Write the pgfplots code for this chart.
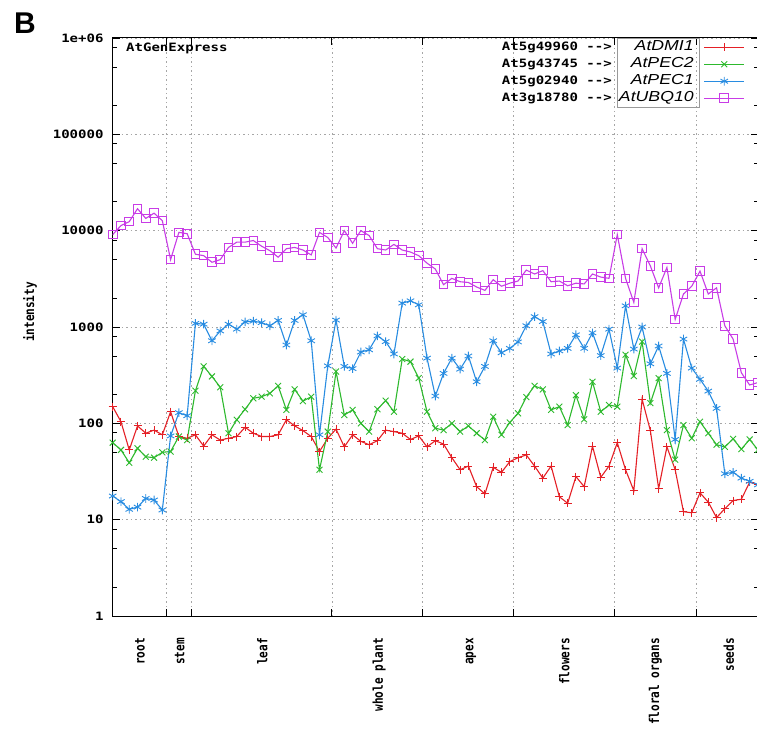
\documentclass[border=0pt]{standalone}
\usepackage{fontspec}
\usepackage{pgfplots}
\usepackage{pgfplotstable}
\pgfplotsset{compat=1.18}
\newfontfamily\gmono[FakeStretch=1.22]{DejaVu Sans Mono}
\newfontfamily\gmonor[FakeStretch=0.82]{DejaVu Sans Mono}
\newfontfamily\arialit[FakeStretch=1.22]{Liberation Sans}
\newfontfamily\arialb{Liberation Sans}
\definecolor{cred}{RGB}{228,32,38}
\definecolor{cgreen}{RGB}{45,185,45}
\definecolor{cblue}{RGB}{40,140,225}
\definecolor{cpurp}{RGB}{200,60,230}
\newcommand{\tickfont}{\gmono\bfseries\fontsize{11.5}{13}\selectfont}
\newcommand{\rotfont}{\gmonor\bfseries\fontsize{13.5}{15}\selectfont}

\pgfplotstableread{
x r g b p
0 149 63 17.6 9100
1 104 53 15.4 11300
2 53 39 12.8 12400
3 94 55 13.5 16900
4 79 45 16.6 13400
5 85 44 16 15200
6 76 50 12.6 12700
7 132 51 74 5000
8 73 73 129 9600
9 70 67 120 9300
10 76 218 1090 5700
11 58 390 1070 5500
12 76 307 720 4700
13 67 237 910 5000
14 70 79 1070 6700
15 73 109 950 7600
16 91 140 1130 7600
17 79 182 1150 7900
18 73 189 1110 6900
19 73 205 1030 6200
20 76 245 1170 5300
21 109 138 650 6500
22 94 225 1170 6700
23 84 170 1340 6300
24 73 189 720 5600
25 51 33 76 9600
26 70 82 395 8500
27 87 345 1180 6600
28 57 122 390 10000
29 76 138 370 7400
30 65 100 550 10000
31 60 82 580 8900
32 66 140 810 6500
33 85 172 705 6300
34 82 132 525 7200
35 79 465 1770 6300
36 68 437 1870 6000
37 74 295 1700 5500
38 57 132 475 4600
39 66 89 192 4000
40 61 85 330 2750
41 44 100 475 3200
42 33 82 365 2950
43 36 94 500 2900
44 22 79 270 2600
45 18.5 67 390 2400
46 35 117 720 3100
47 31 76 540 2650
48 40 102 600 2850
49 44 127 700 3000
50 47 187 1030 3900
51 36 245 1280 3550
52 27 225 1140 3850
53 36 138 525 2950
54 17.3 149 565 3000
55 14.8 96 600 2680
56 28 196 830 2850
57 22 110 600 2800
58 58 270 870 3550
59 27.5 132 505 3300
60 36 155 950 3200
61 63 149 375 9100
62 33 515 1660 3200
63 20 310 590 1800
64 178 705 1000 6500
65 84 162 415 4300
66 21 295 635 2550
67 57 85 330 4150
68 33 42 68 1200
69 12.1 96 750 2200
70 11.8 70 375 2650
71 19 104 287 3800
72 15.2 79 216 2200
73 10.5 60 143 2550
74 13 57 30 1030
75 15.8 69 31 750
76 16.3 54 27 335
77 24.5 68 25 250
78 23 53 23 265
}\datatable

\begin{document}
\begin{tikzpicture}[x=1pt,y=1pt]
\useasboundingbox (0,0) rectangle (757,732);
\begin{axis}[
  at={(112.7pt,116pt)}, anchor=south west,
  scale only axis, width=645.2pt, height=578pt,
  ymode=log, ymin=1, ymax=1000000,
  xmin=0, xmax=78,
  clip=false,
  axis line style={black, line width=1pt},
  tick align=inside,
  major tick length=7pt, minor tick length=4pt,
  every tick/.style={black, line width=0.9pt},
  ytick={1,10,100,1000,10000,100000,1000000},
  yticklabels={1,10,100,1000,10000,100000,1e+06},
  minor ytick={2,5,8,20,50,80,200,500,800,2000,5000,8000,20000,50000,80000,200000,500000,800000},
  yticklabel style={font=\tickfont, inner sep=0pt},
  yticklabel shift=9pt,
  xtick={6.5,9.5,26.5,37.5,48.5,60.6,70.6},
  xticklabels={,,,,,,},
  extra x ticks={3.3,8.1,18.1,32.2,43.3,54.6,65.6,74.5},
  extra x tick labels={root,stem,leaf,whole plant,apex,flowers,floral organs,seeds},
  extra x tick style={major tick length=0pt, grid=none},
  xticklabel style={font=\rotfont, rotate=90, anchor=east, inner sep=0pt},
  xticklabel shift=22pt,
  xmajorgrids, ymajorgrids,
  major grid style={dash pattern=on 1.3pt off 3.2pt, gray!70, line width=0.8pt},
  /pgf/number format/assume math mode=true,
  legend plot pos=right,
  legend cell align=right,
  legend style={at={(rel axis cs:0.980,0.9991)}, anchor=north east, draw=none, fill=none,
    inner sep=0pt, column sep=10pt, row sep=0pt,
    font=\arialit\itshape\fontsize{14.5}{16}\selectfont,
    nodes={inner sep=0pt, text height=11.5pt, text depth=5.5pt}},
  legend image code/.code={\draw[mark repeat=2,mark phase=2,#1] plot coordinates {(0pt,0pt) (20pt,0pt) (40pt,0pt)};},
]
\addplot[cred, line width=1.1pt, mark=+, mark size=4pt, mark options={line width=1pt}] table[x=x,y=r] {\datatable};
\addlegendentry{AtDMI1}
\addplot[cgreen, line width=1.1pt, mark=x, mark size=4.2pt, mark options={line width=0.9pt}] table[x=x,y=g] {\datatable};
\addlegendentry{AtPEC2}
\addplot[cblue, line width=1.1pt, mark=asterisk, mark size=4.3pt, mark options={line width=0.9pt}] table[x=x,y=b] {\datatable};
\addlegendentry{AtPEC1}
\addplot[cpurp, line width=1.1pt, mark=square, mark size=4.3pt, mark options={line width=1pt}] table[x=x,y=p] {\datatable};
\addlegendentry{AtUBQ10}
\end{axis}
% texts
\node[anchor=north west, inner sep=0pt, font=\arialb\bfseries\fontsize{30}{30}\selectfont] at (14,719) {B};
\node[rotate=90, inner sep=0pt, font=\rotfont] at (30,420) {intensity};
\node[anchor=base west, inner sep=0pt, font=\tickfont] at (126,680) {AtGenExpress};
\node[anchor=base east, inner sep=0pt, font=\tickfont] at (612,681) {At5g49960 -{}->};
\node[anchor=base east, inner sep=0pt, font=\tickfont] at (612,664) {At5g43745 -{}->};
\node[anchor=base east, inner sep=0pt, font=\tickfont] at (612,647) {At5g02940 -{}->};
\node[anchor=base east, inner sep=0pt, font=\tickfont] at (612,630) {At3g18780 -{}->};
\draw[gray!80, line width=0.7pt] (617,625) rectangle (699,694);
\end{tikzpicture}
\end{document}
